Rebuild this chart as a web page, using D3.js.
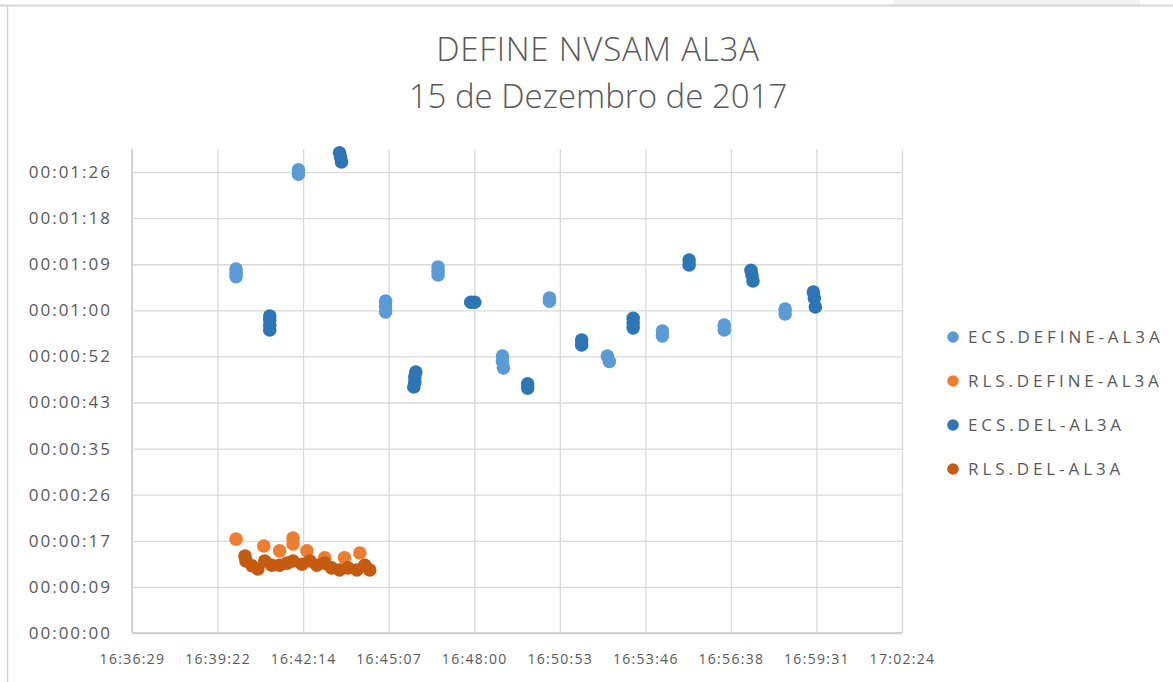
<!DOCTYPE html>
<html>
<head>
<meta charset="utf-8">
<script src="https://cdn.jsdelivr.net/npm/d3@7"></script>
<style>
	body { margin: 0; background: #ffffff; }
	text { fill: #595959; }
</style>
</head>
<body>
<div id="chart"></div>
<script>
// DEFINE NVSAM AL3A - scatter of durations per hour of day

// tick labels as Excel writes them (major unit 0.002 day on x, 0.0001 day on y)
var xTickLabels = ["16:36:29","16:39:22","16:42:14","16:45:07","16:48:00","16:50:53","16:53:46","16:56:38","16:59:31","17:02:24"];
var yTickLabels = ["00:00:00","00:00:09","00:00:17","00:00:26","00:00:35","00:00:43","00:00:52","00:01:00","00:01:09","00:01:18","00:01:26"];
var xMin = 0.692 * 86400, xUnit = 0.002 * 86400;
var yUnit = 0.0001 * 86400, yMax = 0.00105 * 86400;

var seriesNames = ["ECS.DEFINE-AL3A","RLS.DEFINE-AL3A","ECS.DEL-AL3A","RLS.DEL-AL3A"];
var seriesColors = ["#5b9bd5","#ed7d31","#2e75b6","#c55a11"];

// [hour, duration in seconds]
var ecsDefine = [
	["16:39:59",68.2],["16:39:59",67.5],["16:39:59",66.8],
	["16:42:05",86.8],["16:42:05",86.0],
	["16:45:01",62.2],["16:45:01",61.3],["16:45:01",60.2],
	["16:46:47",68.6],["16:46:47",67.8],["16:46:47",67.1],
	["16:48:57",51.9],["16:48:57",50.9],["16:48:59",49.7],
	["16:50:32",62.8],["16:50:32",62.2],
	["16:52:29",51.9],["16:52:33",50.9],
	["16:54:20",56.6],["16:54:20",55.7],
	["16:56:25",57.7],["16:56:25",56.8],
	["16:58:28",60.7],["16:58:28",59.8]
];
var rlsDefine = [
	["16:39:59",17.6],["16:40:55",16.3],["16:41:27",15.4],["16:41:54",17.8],
	["16:41:54",16.7],["16:42:22",15.4],["16:42:58",14.1],["16:43:38",14.1],
	["16:44:09",15.0]
];
var ecsDel = [
	["16:41:07",59.4],["16:41:07",58.7],["16:41:07",57.7],["16:41:07",56.8],
	["16:43:28",90.0],["16:43:30",89.2],["16:43:32",88.3],
	["16:46:02",48.9],["16:46:00",48.0],["16:46:00",47.0],["16:45:58",46.1],
	["16:47:53",62.0],["16:48:01",62.0],
	["16:49:48",46.7],["16:49:48",45.9],
	["16:51:37",54.9],["16:51:37",54.0],
	["16:53:21",59.0],["16:53:21",58.1],["16:53:21",57.2],
	["16:55:14",69.9],["16:55:14",69.0],
	["16:57:19",68.0],["16:57:21",67.1],["16:57:23",66.0],
	["16:59:25",63.9],["16:59:27",62.8],["16:59:29",61.1]
];
var rlsDel = [
	["16:40:17",14.4],["16:40:19",13.5],["16:40:31",12.6],["16:40:43",12.0],
	["16:40:57",13.5],["16:41:11",12.7],["16:41:27",12.7],["16:41:42",13.1],
	["16:41:54",13.5],["16:42:12",12.9],["16:42:28",13.5],["16:42:42",12.7],
	["16:42:58",13.1],["16:43:12",12.2],["16:43:28",11.8],["16:43:45",12.2],
	["16:44:03",11.8],["16:44:19",12.7],["16:44:29",11.8]
];
var allSeries = [ecsDefine, rlsDefine, ecsDel, rlsDel];

function toSec(s){
	var p = s.split(":");
	return (+p[0])*3600 + (+p[1])*60 + (+p[2]);
}

function drawChart(){
	var W = 1173, H = 682;
	var pLeft = 132, pRight = 902, pTop = 149, pBottom = 633;

	var svg = d3.select("#chart").append("svg")
		.attr("width", W)
		.attr("height", H);

	// frame of the sheet
	svg.append("rect").attr("x", 0).attr("y", 0).attr("width", W).attr("height", H).attr("fill", "#ffffff");
	svg.append("rect").attr("x", 893).attr("y", 0).attr("width", 247).attr("height", 5).attr("fill", "#f2f2f2");
	svg.append("line").attr("x1", 0).attr("x2", W).attr("y1", 5.5).attr("y2", 5.5)
		.attr("stroke", "#d6d6d6").attr("stroke-width", 2);
	svg.append("line").attr("x1", 7.5).attr("x2", 7.5).attr("y1", 5).attr("y2", H)
		.attr("stroke", "#d6d6d6").attr("stroke-width", 1.5);

	var x = d3.scaleLinear()
		.domain([xMin, xMin + xUnit*(xTickLabels.length-1)])
		.range([pLeft, pRight]);
	var y = d3.scaleLinear()
		.domain([0, yMax])
		.range([pBottom, pTop]);

	var xTicks = xTickLabels.map(function(d, i){ return xMin + i*xUnit; });
	var yTicks = yTickLabels.map(function(d, i){ return i*yUnit; });

	// gridlines + labels
	var xAxis = d3.axisBottom(x).tickValues(xTicks)
		.tickSize(-(pBottom-pTop)).tickPadding(21)
		.tickFormat(function(d, i){ return xTickLabels[i]; });
	var yAxis = d3.axisLeft(y).tickValues(yTicks)
		.tickSize(-(pRight-pLeft)).tickPadding(20)
		.tickFormat(function(d, i){ return yTickLabels[i]; });

	var gx = svg.append("g").attr("transform", "translate(0," + pBottom + ")").call(xAxis);
	var gy = svg.append("g").attr("transform", "translate(" + pLeft + ",0)").call(yAxis);
	gx.select(".domain").remove();
	gy.select(".domain").remove();
	gx.selectAll(".tick line").attr("stroke", "#d9d9d9").attr("stroke-width", 1.3);
	gy.selectAll(".tick line").attr("stroke", "#d9d9d9").attr("stroke-width", 1.3);
	gx.selectAll(".tick text")
		.attr("fill", "#595959")
		.style("font-family", "'Open Sans', sans-serif")
		.style("font-size", "14px")
		.style("letter-spacing", "1.3px");
	gy.selectAll(".tick text")
		.attr("fill", "#595959")
		.style("font-family", "'Open Sans', sans-serif")
		.style("font-size", "17px")
		.style("letter-spacing", "2px");
	// axis lines
	svg.append("line").attr("x1", pLeft).attr("x2", pRight).attr("y1", pBottom).attr("y2", pBottom)
		.attr("stroke", "#c8c8c8").attr("stroke-width", 1.3);
	svg.append("line").attr("x1", pLeft).attr("x2", pLeft).attr("y1", pTop).attr("y2", pBottom)
		.attr("stroke", "#c8c8c8").attr("stroke-width", 1.3);

	// points
	allSeries.forEach(function(data, k){
		svg.append("g").selectAll("circle").data(data)
			.enter().append("circle")
			.attr("cx", function(d){ return x(toSec(d[0])); })
			.attr("cy", function(d){ return y(d[1]); })
			.attr("r", 6.8)
			.attr("fill", seriesColors[k]);
	});

	// title
	svg.append("text").attr("x", 598).attr("y", 61).attr("text-anchor", "middle")
		.style("font-family", "'Open Sans', sans-serif")
		.style("font-size", "33px")
		.style("font-weight", 300)
		.style("letter-spacing", "0.8px")
		.text("DEFINE NVSAM AL3A");
	svg.append("text").attr("x", 598).attr("y", 108).attr("text-anchor", "middle")
		.style("font-family", "'Open Sans', sans-serif")
		.style("font-size", "33px")
		.style("font-weight", 300)
		.text("15 de Dezembro de 2017");

	// legend
	var leg = svg.selectAll("g.leg").data(seriesNames)
		.enter().append("g")
		.attr("class", "leg")
		.attr("transform", function(d, i){ return "translate(953," + (337 + i*44) + ")"; });
	leg.append("circle").attr("r", 5.8).attr("fill", function(d, i){ return seriesColors[i]; });
	leg.append("text").attr("x", 15).attr("y", 6)
		.style("font-family", "'Open Sans', sans-serif")
		.style("font-size", "17px")
		.style("letter-spacing", "3.9px")
		.text(function(d){ return d; });
}

drawChart();
</script>
</body>
</html>
